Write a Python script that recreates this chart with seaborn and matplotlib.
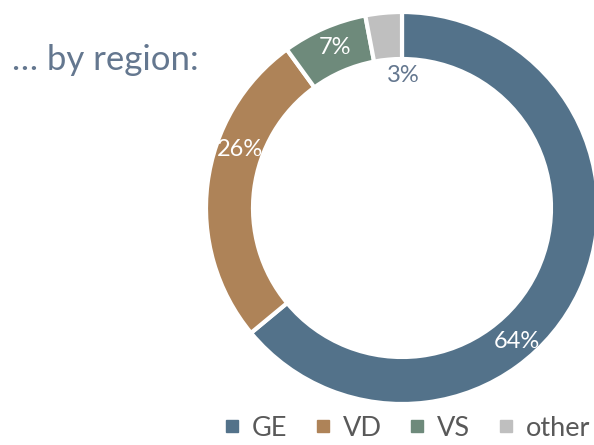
import matplotlib
matplotlib.use('Agg')

import matplotlib.pyplot as plt
from matplotlib.lines import Line2D

import seaborn as sns

REGIONS = ['GE', 'VD', 'VS', 'other']
SHARES = [64, 26, 7, 3]
LABELS = ['64%', '26%', '7%', '3%']

COLORS = ['#53728A', '#AE8358', '#6E8A7B', '#BFBFBF']
TITLE_COLOR = '#64778F'

# label anchors in figure pixels (x, y from top)
LABEL_POS = [(517, 342), (240, 150), (335, 47), (403, 76)]
LABEL_COLORS = ['white', 'white', 'white', TITLE_COLOR]


def main():
    sns.set_theme(style='white')
    plt.rcParams['font.family'] = ['Lato', 'DejaVu Sans']

    w, h = 594, 445
    fig = plt.figure(figsize=(w / 100, h / 100), dpi=100)
    ax = fig.add_axes([0, 0, 1, 1])
    ax.set_aspect('equal')
    ax.axis('off')

    ax.pie(SHARES, colors=COLORS, startangle=90, counterclock=False,
           radius=196, center=(402, h - 208),
           wedgeprops=dict(width=47, edgecolor='white', linewidth=3))
    ax.set_xlim(0, w)
    ax.set_ylim(0, h)

    for lab, (x, y), c in zip(LABELS, LABEL_POS, LABEL_COLORS):
        ax.text(x, h - y, lab, color=c, fontsize=17, ha='center', va='center')

    fig.text(12 / w, 1 - 60 / h, '\u2026 by region:', color=TITLE_COLOR,
             fontsize=25, ha='left', va='center')

    handles = [Line2D([], [], marker='s', linestyle='', color=c, markersize=9)
               for c in COLORS]
    fig.legend(handles, REGIONS, loc='lower right', bbox_to_anchor=(1.035, -0.045),
               ncol=4, frameon=False, fontsize=19.5, handletextpad=0.25,
               columnspacing=0.8, labelcolor='#595959', handlelength=1.0)

    fig.savefig('out.png', dpi=100)


if __name__ == '__main__':
    main()
